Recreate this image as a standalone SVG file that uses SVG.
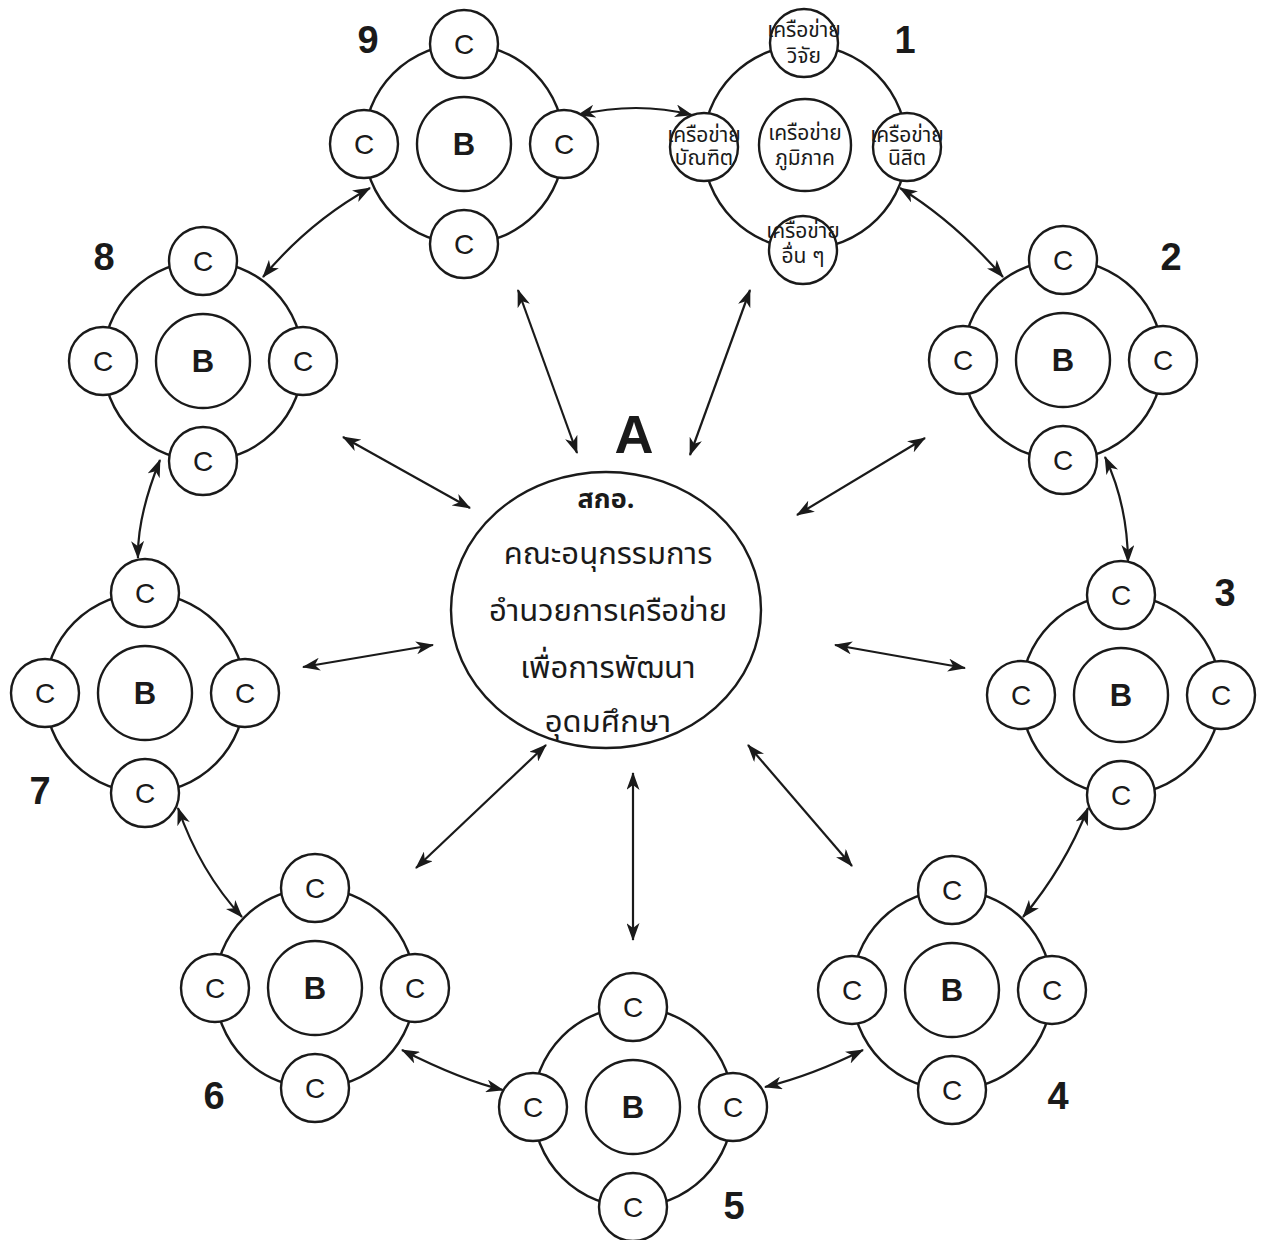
<svg xmlns="http://www.w3.org/2000/svg" width="1262" height="1240" viewBox="0 0 1262 1240">
<style>
.ring{fill:none;stroke:#1a1a1a;stroke-width:2.4}
.c{fill:#fff;stroke:#1a1a1a;stroke-width:2.4}
.ct{font-family:"Liberation Sans",Arial,sans-serif;font-size:28px;fill:#1a1a1a;text-anchor:middle}
.bt{font-family:"Liberation Sans",Arial,sans-serif;font-size:31px;font-weight:bold;fill:#1a1a1a;text-anchor:middle}
.num{font-family:"Liberation Sans",Arial,sans-serif;font-size:38px;font-weight:bold;fill:#1a1a1a;text-anchor:middle}
.th{font-family:"Noto Sans Thai","Noto Sans","DejaVu Sans",sans-serif;font-size:21px;fill:#1a1a1a;text-anchor:middle}
.thb{font-family:"Noto Sans Thai","Noto Sans","DejaVu Sans",sans-serif;font-size:31px;fill:#1a1a1a;text-anchor:middle}
.arr{fill:none;stroke:#1a1a1a;stroke-width:2.2;marker-start:url(#ah);marker-end:url(#ah)}
</style>
<defs>
<marker id="ah" viewBox="0 0 18 13" refX="17" refY="6.5" markerWidth="18" markerHeight="13" markerUnits="userSpaceOnUse" orient="auto-start-reverse">
<path d="M0,0 L18,6.5 L0,13 L5,6.5 z" fill="#1a1a1a"/>
</marker>
<g id="cl">
<circle class="ring" cx="0" cy="0" r="100"/>
<circle class="c" cx="0" cy="0" r="47"/>
<circle class="c" cx="0" cy="-100" r="34"/>
<circle class="c" cx="-100" cy="0" r="34"/>
<circle class="c" cx="100" cy="0" r="34"/>
<circle class="c" cx="0" cy="100" r="34"/>
<text class="bt" x="0" y="11">B</text>
<text class="ct" x="0" y="-90">C</text>
<text class="ct" x="-100" y="10">C</text>
<text class="ct" x="100" y="10">C</text>
<text class="ct" x="0" y="110">C</text>
</g>
</defs>
<rect width="1262" height="1240" fill="#fff"/>

<g id="connectors">
<path class="arr" d="M518,290 L577,453"/>
<path class="arr" d="M750,290 L690,455"/>
<path class="arr" d="M343,437 L470,508"/>
<path class="arr" d="M925,438 L797,515"/>
<path class="arr" d="M303,667 L433,645"/>
<path class="arr" d="M835,645 L965,668"/>
<path class="arr" d="M546,745 L416,868"/>
<path class="arr" d="M633,773 L633,940"/>
<path class="arr" d="M748,745 L852,866"/>
<path class="arr" d="M578,115 Q637,101 692,115"/>
<path class="arr" d="M900,188 Q954.5,221.5 1003,277"/>
<path class="arr" d="M1105,457 Q1127.5,504.5 1128,562"/>
<path class="arr" d="M1088,808 Q1064.5,867.5 1023,917"/>
<path class="arr" d="M863,1050 Q812,1075.5 765,1087"/>
<path class="arr" d="M402,1050 Q461.5,1080 503,1090"/>
<path class="arr" d="M178,808 Q200,871.5 242,917"/>
<path class="arr" d="M160,460 Q137,517 138,558"/>
<path class="arr" d="M263,277 Q309.5,221.5 370,188"/>
</g>

<g id="nodeA">
<ellipse class="ring" cx="606" cy="610" rx="155" ry="138"/>
<text class="num" x="634" y="453" style="font-size:54px">A</text>
<text class="thb" x="606" y="508" style="font-weight:bold;font-size:27px">สกอ.</text>
<text class="thb" x="608" y="564">คณะอนุกรรมการ</text>
<text class="thb" x="608" y="621">อำนวยการเครือข่าย</text>
<text class="thb" x="608" y="678">เพื่อการพัฒนา</text>
<text class="thb" x="608" y="732">อุดมศึกษา</text>
</g>

<g id="node1">
<circle class="ring" cx="805" cy="147" r="102"/>
<circle class="c" cx="805" cy="145" r="46"/>
<circle class="c" cx="804" cy="43" r="34"/>
<circle class="c" cx="704" cy="147" r="34"/>
<circle class="c" cx="907" cy="147" r="34"/>
<circle class="c" cx="803" cy="250" r="34"/>
<text class="th" x="805" y="140">เครือข่าย</text>
<text class="th" x="805" y="165">ภูมิภาค</text>
<text class="th" x="804" y="37">เครือข่าย</text>
<text class="th" x="804" y="63">วิจัย</text>
<text class="th" x="704" y="142">เครือข่าย</text>
<text class="th" x="704" y="165">บัณฑิต</text>
<text class="th" x="907" y="142">เครือข่าย</text>
<text class="th" x="907" y="165">นิสิต</text>
<text class="th" x="803" y="238">เครือข่าย</text>
<text class="th" x="803" y="263">อื่น ๆ</text>
<text class="num" x="905" y="53">1</text>
</g>

<g id="node9"><use href="#cl" x="464" y="144"/><text class="num" x="368" y="53">9</text></g>
<g id="node2"><use href="#cl" x="1063" y="360"/><text class="num" x="1171" y="270">2</text></g>
<g id="node3"><use href="#cl" x="1121" y="695"/><text class="num" x="1225" y="606">3</text></g>
<g id="node4"><use href="#cl" x="952" y="990"/><text class="num" x="1058" y="1109">4</text></g>
<g id="node5"><use href="#cl" x="633" y="1107"/><text class="num" x="734" y="1219">5</text></g>
<g id="node6"><use href="#cl" x="315" y="988"/><text class="num" x="214" y="1109">6</text></g>
<g id="node7"><use href="#cl" x="145" y="693"/><text class="num" x="40" y="804">7</text></g>
<g id="node8"><use href="#cl" x="203" y="361"/><text class="num" x="104" y="270">8</text></g>
</svg>
